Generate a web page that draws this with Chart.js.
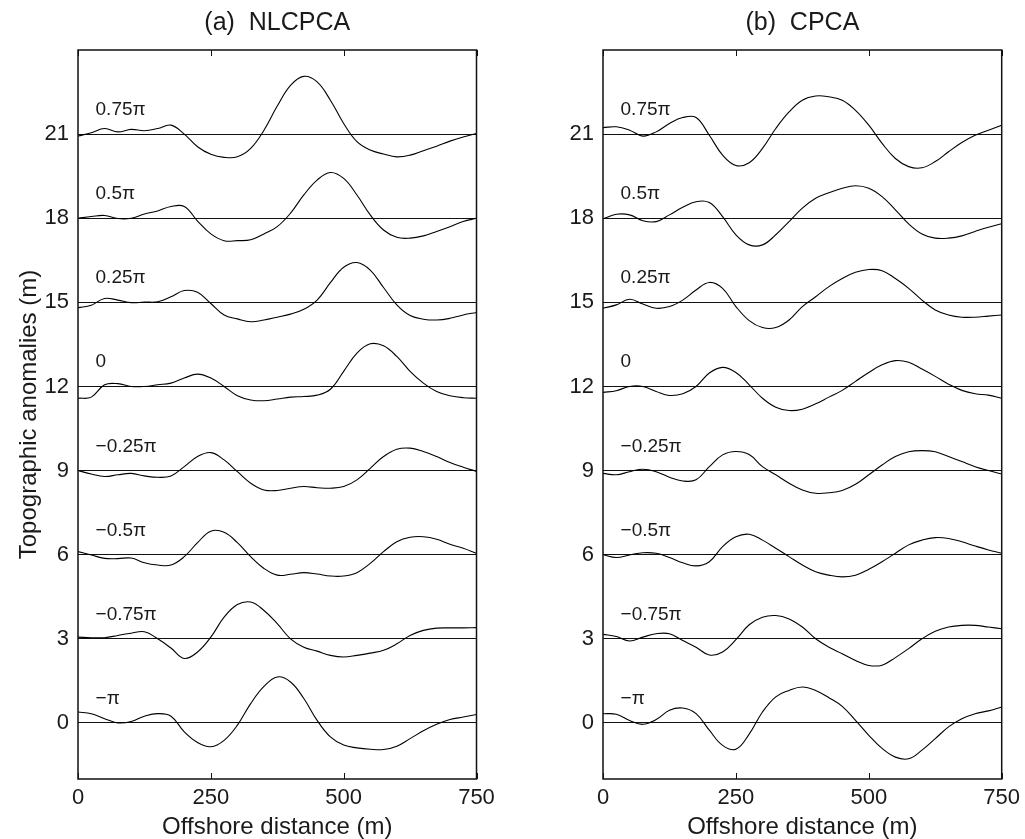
<!DOCTYPE html>
<html>
<head>
<meta charset="utf-8">
<title>NLCPCA / CPCA topographic anomalies</title>
<script src="https://cdn.jsdelivr.net/npm/chart.js@4.4.1/dist/chart.umd.min.js"></script>
<style>
  html, body { margin: 0; padding: 0; background: #fff; }
  #wrap { position: relative; width: 1025px; height: 839px; }
  canvas { position: absolute; top: 0; }
  #leftChart { left: 0; }
  #rightChart { left: 512px; }
</style>
</head>
<body>
<div id="wrap">
  <canvas id="leftChart" width="512" height="839"></canvas>
  <canvas id="rightChart" width="513" height="839"></canvas>
</div>
<script>
// offshore distance (m), shared by every curve
const distance = [0, 25, 50, 75, 100, 125, 150, 175, 200, 225, 250, 275, 300, 325, 350, 375,
                  400, 425, 450, 475, 500, 525, 550, 575, 600, 625, 650, 675, 700, 725, 750];
const xTicks = [0, 250, 500, 750];
const yTicks = [0, 3, 6, 9, 12, 15, 18, 21];

// phase of each curve and the level it is drawn around
const phaseLabels = ["0.75π", "0.5π", "0.25π", "0", "−0.25π", "−0.5π", "−0.75π", "−π"];
const phaseBase = [21, 18, 15, 12, 9, 6, 3, 0];

// (a) NLCPCA (value = level + anomaly)
const nl075 = [20.93, 21.05, 21.2, 21.08, 21.17, 21.12, 21.2, 21.32, 21.0, 20.55, 20.28, 20.17, 20.19, 20.49, 21.14, 22.0,
               22.74, 23.06, 22.86, 22.21, 21.38, 20.73, 20.43, 20.29, 20.19, 20.25, 20.41, 20.57, 20.75, 20.9, 21.02];
const nl05 = [18.0, 18.06, 18.1, 17.99, 18.0, 18.15, 18.26, 18.42, 18.42, 17.9, 17.44, 17.2, 17.2, 17.23, 17.44, 17.7,
              18.18, 18.83, 19.36, 19.63, 19.42, 18.83, 18.12, 17.58, 17.32, 17.29, 17.37, 17.53, 17.7, 17.88, 18.0];
const nl025 = [14.81, 14.9, 15.14, 15.08, 14.99, 15.01, 15.02, 15.2, 15.42, 15.36, 14.96, 14.55, 14.41, 14.31, 14.37, 14.47,
               14.58, 14.75, 15.08, 15.7, 16.25, 16.42, 16.15, 15.53, 14.91, 14.53, 14.4, 14.37, 14.43, 14.55, 14.64];
const nl0 = [11.58, 11.62, 12.06, 12.1, 12.0, 12.0, 12.06, 12.12, 12.3, 12.44, 12.3, 12.0, 11.67, 11.52, 11.49, 11.55,
             11.62, 11.64, 11.69, 11.9, 12.54, 13.19, 13.52, 13.45, 13.07, 12.54, 12.12, 11.82, 11.67, 11.6, 11.58];
const nlm025 = [9.0, 8.88, 8.79, 8.85, 8.9, 8.81, 8.76, 8.81, 9.14, 9.5, 9.64, 9.38, 8.96, 8.55, 8.31, 8.29,
                8.37, 8.43, 8.39, 8.37, 8.43, 8.67, 9.08, 9.5, 9.76, 9.8, 9.68, 9.5, 9.29, 9.12, 8.97];
const nlm05 = [6.11, 5.99, 5.87, 5.86, 5.88, 5.71, 5.63, 5.63, 5.93, 6.43, 6.84, 6.8, 6.43, 5.93, 5.51, 5.27,
               5.3, 5.36, 5.31, 5.24, 5.24, 5.36, 5.69, 6.11, 6.46, 6.62, 6.64, 6.55, 6.37, 6.23, 6.05];
const nlm075 = [3.06, 3.04, 3.04, 3.12, 3.2, 3.25, 3.0, 2.67, 2.3, 2.53, 3.06, 3.77, 4.22, 4.31, 4.01, 3.54,
                3.0, 2.7, 2.56, 2.41, 2.35, 2.41, 2.49, 2.59, 2.82, 3.12, 3.3, 3.38, 3.39, 3.39, 3.4];
const nlm1 = [0.39, 0.33, 0.15, 0.0, 0.05, 0.24, 0.33, 0.24, -0.32, -0.7, -0.85, -0.62, -0.08, 0.69, 1.3, 1.64,
              1.46, 0.87, 0.09, -0.5, -0.79, -0.89, -0.94, -0.95, -0.83, -0.56, -0.28, -0.05, 0.12, 0.21, 0.3];

// (b) CPCA
const c075 = [21.23, 21.26, 21.14, 20.93, 21.08, 21.38, 21.59, 21.59, 20.96, 20.25, 19.88, 19.98, 20.49, 21.2, 21.79, 22.21,
              22.36, 22.33, 22.21, 21.85, 21.32, 20.67, 20.13, 19.84, 19.8, 20.02, 20.37, 20.7, 20.96, 21.14, 21.32];
const c05 = [17.98, 18.14, 18.12, 17.91, 17.88, 18.12, 18.39, 18.59, 18.56, 18.06, 17.41, 17.05, 17.05, 17.41, 17.88, 18.36,
             18.71, 18.91, 19.07, 19.16, 19.07, 18.77, 18.3, 17.8, 17.44, 17.29, 17.29, 17.37, 17.53, 17.68, 17.8];
const c025 = [14.79, 14.91, 15.11, 14.94, 14.79, 14.85, 15.08, 15.44, 15.71, 15.5, 14.85, 14.35, 14.1, 14.1, 14.37, 14.85,
              15.2, 15.56, 15.85, 16.07, 16.17, 16.13, 15.85, 15.5, 15.08, 14.73, 14.55, 14.47, 14.47, 14.51, 14.55];
const c0 = [11.79, 11.85, 12.0, 12.0, 11.82, 11.68, 11.74, 12.0, 12.48, 12.68, 12.5, 12.06, 11.58, 11.26, 11.14, 11.19,
            11.38, 11.62, 11.86, 12.18, 12.5, 12.77, 12.92, 12.86, 12.62, 12.36, 12.08, 11.86, 11.74, 11.69, 11.58];
const cm025 = [8.9, 8.85, 8.96, 9.05, 8.96, 8.76, 8.63, 8.67, 9.14, 9.56, 9.68, 9.57, 9.14, 8.85, 8.55, 8.31,
               8.19, 8.21, 8.29, 8.51, 8.85, 9.2, 9.5, 9.67, 9.71, 9.67, 9.5, 9.32, 9.14, 9.0, 8.88];
const cm05 = [6.0, 5.9, 5.99, 6.07, 6.05, 5.9, 5.71, 5.6, 5.75, 6.29, 6.64, 6.73, 6.52, 6.23, 5.93, 5.63,
              5.39, 5.27, 5.21, 5.27, 5.48, 5.75, 6.05, 6.35, 6.52, 6.61, 6.58, 6.46, 6.31, 6.17, 6.05];
const cm075 = [3.16, 3.08, 2.92, 3.06, 3.18, 3.18, 2.94, 2.7, 2.42, 2.53, 2.97, 3.5, 3.77, 3.83, 3.71, 3.42,
               3.0, 2.7, 2.47, 2.23, 2.05, 2.06, 2.33, 2.65, 3.0, 3.27, 3.42, 3.48, 3.48, 3.42, 3.36];
const cm1 = [0.33, 0.31, 0.09, -0.05, 0.12, 0.45, 0.53, 0.33, -0.26, -0.8, -0.94, -0.4, 0.39, 0.93, 1.16, 1.28,
             1.16, 0.9, 0.59, 0.09, -0.44, -0.91, -1.22, -1.28, -0.97, -0.56, -0.14, 0.15, 0.33, 0.43, 0.57];

const FONT = "'Liberation Sans', Arial, Helvetica, sans-serif";

document.addEventListener("DOMContentLoaded", () => {
  Chart.defaults.font.family = FONT;
  Chart.defaults.color = "#1a1a1a";

  // box, inward ticks, phase labels and titles
  const framePlugin = {
    id: "frame",
    afterDraw(chart, args, opts) {
      const { ctx, chartArea: a, scales: { x, y } } = chart;
      ctx.save();
      ctx.strokeStyle = "#111";
      ctx.lineWidth = 1.5;
      ctx.strokeRect(a.left, a.top, a.right - a.left, a.bottom - a.top);

      ctx.lineWidth = 1;
      x.ticks.forEach(t => {
        const px = Math.round(x.getPixelForValue(t.value)) + 0.5;
        ctx.beginPath();
        ctx.moveTo(px, a.bottom);
        ctx.lineTo(px, a.bottom - 6);
        ctx.moveTo(px, a.top);
        ctx.lineTo(px, a.top + 6);
        ctx.stroke();
      });

      ctx.fillStyle = "#1a1a1a";
      ctx.font = "19px " + FONT;
      ctx.textAlign = "left";
      ctx.textBaseline = "alphabetic";
      phaseLabels.forEach((lab, i) => {
        ctx.fillText(lab, x.getPixelForValue(33), y.getPixelForValue(phaseBase[i] + 0.68));
      });

      const midX = (a.left + a.right) / 2;
      ctx.textAlign = "center";
      ctx.textBaseline = "middle";
      ctx.font = "25px " + FONT;
      ctx.fillText(opts.title, midX, a.top - 27);
      ctx.font = "24px " + FONT;
      ctx.fillText("Offshore distance (m)", midX, a.bottom + 48);

      if (opts.yTitle) {
        ctx.translate(29, (a.top + a.bottom) / 2);
        ctx.rotate(-Math.PI / 2);
        ctx.fillText(opts.yTitle, 0, 0);
      }
      ctx.restore();
    }
  };

  function buildPanel(canvasId, series, title, yTitle, yWidth, padRight) {
    const datasets = series.map(values => ({
      data: distance.map((d, i) => ({ x: d, y: values[i] })),
      borderColor: "#000",
      borderWidth: 1.1,
      pointRadius: 0,
      tension: 0.4,
      fill: false
    }));

    return new Chart(document.getElementById(canvasId), {
      type: "line",
      data: { datasets },
      plugins: [framePlugin],
      options: {
        responsive: false,
        animation: false,
        layout: { padding: { top: 50, right: padRight, bottom: 0, left: 0 } },
        plugins: {
          legend: { display: false },
          tooltip: { enabled: false },
          frame: { title, yTitle }
        },
        scales: {
          x: {
            type: "linear",
            min: 0,
            max: 750,
            afterBuildTicks: s => { s.ticks = xTicks.map(v => ({ value: v })); },
            afterFit: s => { s.height = 60; s.paddingLeft = 0; s.paddingRight = 0; },
            grid: { display: false, drawTicks: false },
            border: { display: false },
            ticks: { font: { size: 22 }, padding: 6, maxRotation: 0 }
          },
          y: {
            min: -2,
            max: 24,
            afterBuildTicks: s => { s.ticks = yTicks.map(v => ({ value: v })); },
            afterFit: s => { s.width = yWidth; s.paddingTop = 0; s.paddingBottom = 0; },
            grid: { color: "#111", lineWidth: 1, drawTicks: false },
            border: { display: false },
            ticks: { font: { size: 22 }, padding: 9 }
          }
        }
      }
    });
  }

  buildPanel("leftChart", [nl075, nl05, nl025, nl0, nlm025, nlm05, nlm075, nlm1],
             "(a)  NLCPCA", "Topographic anomalies (m)", 78, 35.5);
  buildPanel("rightChart", [c075, c05, c025, c0, cm025, cm05, cm075, cm1],
             "(b)  CPCA", null, 91, 23.3);
});
</script>
</body>
</html>
